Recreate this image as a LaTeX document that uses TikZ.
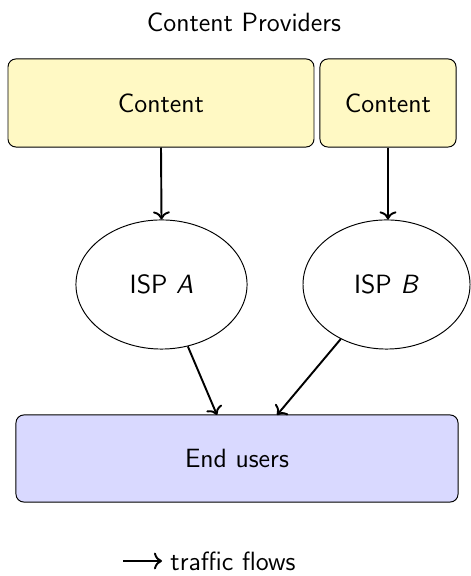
\documentclass[tikz,border=0pt]{standalone}
\usepackage{xcolor}
\usepackage{tikz}
\usetikzlibrary{arrows.meta, positioning, shapes.geometric}

\definecolor{providerfill}{HTML}{FFF9C4}
\definecolor{userfill}{HTML}{D9D9FF}

\begin{document}
\begin{tikzpicture}[
    x=0.4167pt, y=0.4167pt,
    font=\sffamily\fontsize{11}{13}\selectfont,
    provider/.style={rectangle, rounded corners=3.3pt, draw, fill=providerfill, minimum height=36.7pt},
    isp/.style={ellipse, draw, inner sep=0pt, minimum height=53.8pt},
    users/.style={rectangle, rounded corners=3.3pt, draw, fill=userfill, minimum width=184.2pt, minimum height=36.3pt},
    flow/.style={->, thick}
]
\useasboundingbox (0, 0) rectangle (471, 576);

% Providers on top, two ISPs, end users at the bottom.
\node (title) at (244, 554) {Content Providers};
\node[provider, minimum width=127.5pt] (contentA) at (161, 473) {Content};
\node[provider, minimum width=56.7pt] (contentB) at (388, 473) {Content};

\node[isp, minimum width=71.3pt] (ispA) at (161.5, 291.5) {ISP \textit{A}};
\node[isp, minimum width=69.6pt] (ispB) at (386.5, 291.5) {ISP \textit{B}};

\node[users] (endusers) at (237, 117.5) {End users};
\coordinate (inA) at (217, 161);
\coordinate (inB) at (277, 161);

% traffic
\draw[flow] (contentA.south) -- (ispA.north);
\draw[flow] (contentB.south) -- (contentB.south |- ispB.north);
\draw[flow] (ispA) -- (inA);
\draw[flow] (ispB) -- (inB);

% legend
\node[anchor=west] (legend) at (162, 15) {traffic flows};
\coordinate (legstart) at (123, 15);
\draw[flow] (legstart) -- (legend.west);
\end{tikzpicture}
\end{document}
